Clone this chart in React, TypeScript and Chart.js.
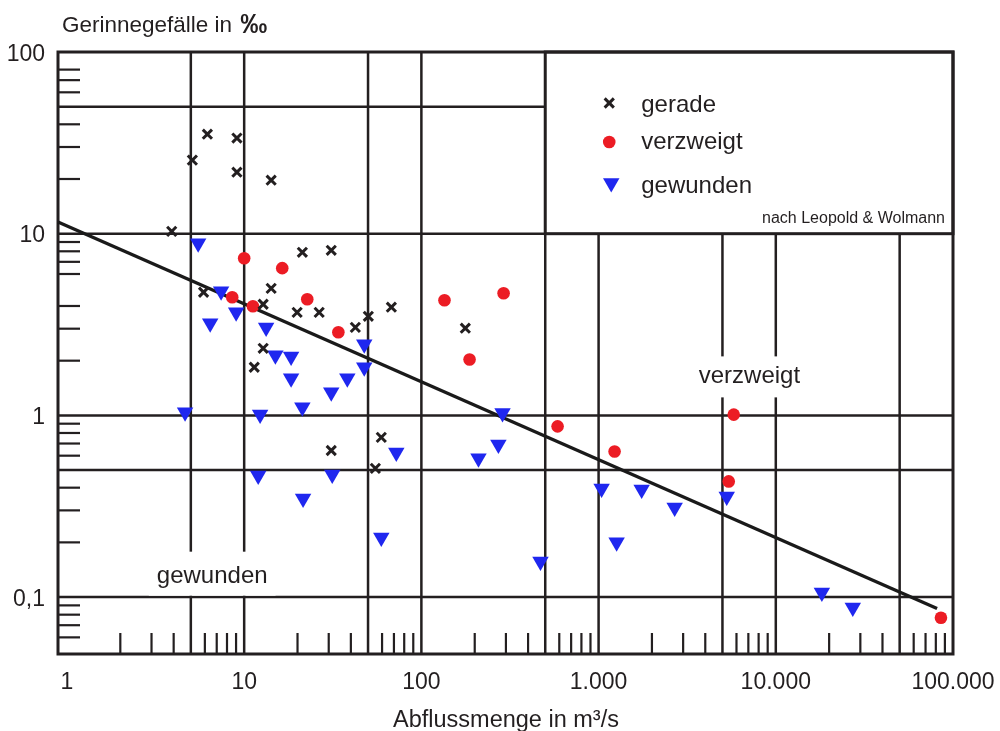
import React, { useEffect, useRef } from "react";
import { Chart, registerables } from "chart.js";

Chart.register(...registerables);

// ---------- data ----------
const geradeQ = [6.2, 9.1, 5.1, 9.1, 14.2, 3.9, 21.3, 31, 5.9, 14.2, 12.8, 19.9, 26.5, 42.4, 50.2, 67.7, 177, 12.8, 11.4, 59.4, 31, 55];
const geradeS = [35.3, 33.6, 25.4, 21.8, 19.7, 10.3, 7.9, 8.1, 4.76, 5.0, 4.09, 3.69, 3.69, 3.05, 3.51, 3.94, 3.02, 2.34, 1.84, 0.757, 0.641, 0.511];

const verzweigtQ = [10, 16.4, 8.56, 11.2, 22.7, 34, 135, 291, 187, 587, 1231, 5790, 5424, 85500];
const verzweigtS = [7.33, 6.46, 4.47, 3.99, 4.36, 2.87, 4.3, 4.7, 2.03, 0.87, 0.633, 1.01, 0.433, 0.077];

const gewundenQ = [5.5, 7.41, 9.01, 6.43, 13.3, 15.0, 18.4, 18.4, 21.3, 4.64, 12.3, 31.0, 38.2, 47.6, 47.6, 287, 272, 210, 72.2, 12.0, 31.4, 21.5, 59.4, 470, 1040, 1264, 1750, 2687, 5286, 18200, 27200];
const gewundenS = [8.87, 4.82, 3.69, 3.21, 3.05, 2.14, 2.11, 1.6, 1.11, 1.04, 1.01, 1.34, 1.6, 2.46, 1.84, 1.03, 0.692, 0.58, 0.625, 0.467, 0.473, 0.349, 0.213, 0.157, 0.396, 0.2, 0.391, 0.311, 0.358, 0.106, 0.0875];

const trendQ = [0.89, 81300];
const trendS = [11.6, 0.0865];

const xTickValues = [1, 10, 100, 1000, 10000, 100000];
const xTickLabels = ["1", "10", "100", "1.000", "10.000", "100.000"];
const yTickValues = [100, 10, 1, 0.1];
const yTickLabels = ["100", "10", "1", "0,1"];

const xGrid = [5, 10, 50, 100, 500, 1000, 5000, 10000, 50000];
const yGrid = [0.1, 0.5, 1, 10, 50];
const xMinor = [2, 3, 4, 6, 7, 8, 9, 20, 30, 40, 60, 70, 80, 90, 200, 300, 400, 600, 700, 800, 900, 2000, 3000, 4000, 6000, 7000, 8000, 9000, 20000, 30000, 40000, 60000, 70000, 80000, 90000];
const yMinor = [0.06, 0.07, 0.08, 0.09, 0.2, 0.3, 0.4, 0.6, 0.7, 0.8, 0.9, 2, 3, 4, 6, 7, 8, 9, 20, 30, 40, 60, 70, 80];

const legendLabels = ["gerade", "verzweigt", "gewunden"];
const sourceNote = "nach Leopold & Wolmann";
const yTitle = "Gerinnegefälle in ";
const yTitleUnit = "‰";
const xTitle = "Abflussmenge in m³/s";

// ---------- styles ----------
const INK = "#231f20";
const RED = "#ec1c24";
const BLUE = "#1f27ef";
const FONT = "'Liberation Sans', Arial, Helvetica, sans-serif";

const toPts = (xs: number[], ys: number[]) => xs.map((x, i) => ({ x, y: ys[i] }));

const decorPlugin = {
  id: "decor",
  beforeDatasetsDraw(chart: any) {
    const { ctx, chartArea: ca, scales } = chart;
    const xs = scales.x;
    const ys = scales.y;
    const px = (v: number) => xs.getPixelForValue(v);
    const py = (v: number) => ys.getPixelForValue(v);
    ctx.save();
    ctx.strokeStyle = INK;
    ctx.lineCap = "butt";

    // grid lines
    ctx.lineWidth = 2.5;
    xGrid.forEach((v) => {
      const p = px(v);
      ctx.beginPath();
      ctx.moveTo(p, ca.top);
      ctx.lineTo(p, ca.bottom);
      ctx.stroke();
    });
    yGrid.forEach((v) => {
      const p = py(v);
      ctx.beginPath();
      ctx.moveTo(ca.left, p);
      ctx.lineTo(ca.right, p);
      ctx.stroke();
    });

    // minor ticks
    ctx.lineWidth = 2.2;
    const tl = 21;
    xMinor.forEach((v) => {
      const p = px(v);
      ctx.beginPath();
      ctx.moveTo(p, ca.bottom);
      ctx.lineTo(p, ca.bottom - tl);
      ctx.stroke();
    });
    yMinor.forEach((v) => {
      const p = py(v);
      ctx.beginPath();
      ctx.moveTo(ca.left, p);
      ctx.lineTo(ca.left + tl + 1, p);
      ctx.stroke();
    });

    // in-chart annotations with white backgrounds
    ctx.fillStyle = INK;
    ctx.font = `24px ${FONT}`;
    ctx.textAlign = "center";
    ctx.textBaseline = "alphabetic";
    const annots = [
      { t: "gewunden", x: px(6.6), y: py(0.12), top: 31, bot: 13 },
      { t: "verzweigt", x: px(7100), y: py(1.5), top: 27, bot: 14 },
    ];
    annots.forEach((a) => {
      const w = ctx.measureText(a.t).width + 16;
      ctx.fillStyle = "#fff";
      ctx.fillRect(a.x - w / 2, a.y - a.top, w, a.top + a.bot);
      ctx.fillStyle = INK;
      ctx.fillText(a.t, a.x, a.y);
    });

    // legend box
    const lx = px(500);
    const lt = ca.top;
    const lb = py(10);
    const lr = ca.right;
    ctx.fillStyle = "#fff";
    ctx.fillRect(lx, lt, lr - lx, lb - lt);
    ctx.lineWidth = 3;
    ctx.strokeRect(lx, lt, lr - lx, lb - lt);

    const mx = lx + 64;
    const tx = lx + 96;
    // x marker
    ctx.lineWidth = 3;
    ctx.strokeStyle = INK;
    const r = 6.5 * Math.SQRT1_2;
    let cy = lt + 51;
    ctx.beginPath();
    ctx.moveTo(mx - r, cy - r);
    ctx.lineTo(mx + r, cy + r);
    ctx.moveTo(mx + r, cy - r);
    ctx.lineTo(mx - r, cy + r);
    ctx.stroke();
    // circle
    cy = lt + 90;
    ctx.fillStyle = RED;
    ctx.beginPath();
    ctx.arc(mx, cy, 6.3, 0, Math.PI * 2);
    ctx.fill();
    // triangle (down)
    cy = lt + 131;
    const tr = 9.5;
    const tcx = mx + 2;
    ctx.fillStyle = BLUE;
    ctx.beginPath();
    ctx.moveTo(tcx, cy + tr);
    ctx.lineTo(tcx - tr * 0.866, cy - tr / 2);
    ctx.lineTo(tcx + tr * 0.866, cy - tr / 2);
    ctx.closePath();
    ctx.fill();

    ctx.fillStyle = INK;
    ctx.font = `24px ${FONT}`;
    ctx.textAlign = "left";
    ctx.fillText(legendLabels[0], tx, lt + 60);
    ctx.fillText(legendLabels[1], tx, lt + 97);
    ctx.fillText(legendLabels[2], tx, lt + 141);
    ctx.font = `16px ${FONT}`;
    ctx.textAlign = "right";
    ctx.fillText(sourceNote, lr - 8, lb - 11);

    // plot border
    ctx.strokeStyle = INK;
    ctx.lineWidth = 3;
    ctx.strokeRect(ca.left, ca.top, ca.right - ca.left, ca.bottom - ca.top);

    // tick labels
    ctx.fillStyle = INK;
    ctx.font = `23px ${FONT}`;
    ctx.textAlign = "center";
    xTickValues.forEach((v, i) => {
      ctx.fillText(xTickLabels[i], px(v), ca.bottom + 35);
    });
    ctx.textAlign = "right";
    yTickValues.forEach((v, i) => {
      ctx.fillText(yTickLabels[i], ca.left - 13, py(v) + 8.5);
    });

    // axis titles
    ctx.textAlign = "left";
    ctx.font = `22.5px ${FONT}`;
    ctx.fillText(yTitle, 62, 32);
    const w1 = ctx.measureText(yTitle).width;
    ctx.font = `bold 27px ${FONT}`;
    ctx.fillText(yTitleUnit, 62 + w1 + 2, 33);
    ctx.font = `23.5px ${FONT}`;
    ctx.textAlign = "center";
    ctx.fillText(xTitle, 506, 727);

    ctx.restore();
  },
};

export default function App() {
  const ref = useRef<HTMLCanvasElement>(null);
  useEffect(() => {
    if (!ref.current) return;
    const chart = new Chart(ref.current, {
      type: "scatter",
      data: {
        datasets: [
          {
            label: "gerade",
            data: toPts(geradeQ, geradeS),
            pointStyle: "crossRot",
            pointRadius: 6.5,
            borderColor: INK,
            borderWidth: 3,
            backgroundColor: INK,
            clip: false,
            order: 1,
          } as any,
          {
            label: "verzweigt",
            data: toPts(verzweigtQ, verzweigtS),
            pointStyle: "circle",
            pointRadius: 6.3,
            backgroundColor: RED,
            borderWidth: 0,
            clip: false,
            order: 2,
          },
          {
            label: "gewunden",
            data: toPts(gewundenQ, gewundenS),
            pointStyle: "triangle",
            pointRotation: 180,
            pointRadius: 9.5,
            backgroundColor: BLUE,
            borderWidth: 0,
            clip: false,
            order: 3,
          },
          {
            label: "trend",
            data: toPts(trendQ, trendS),
            showLine: true,
            pointRadius: 0,
            borderColor: "#1a1a1a",
            borderWidth: 3.3,
            fill: false,
            clip: false,
            order: 10,
          },
        ],
      },
      options: {
        responsive: false,
        animation: false,
        layout: { padding: { left: 58, right: 47, top: 52, bottom: 77 } },
        scales: {
          x: { type: "logarithmic", min: 0.89, max: 100000, display: false },
          y: { type: "logarithmic", min: 0.0486, max: 100, display: false },
        },
        plugins: {
          legend: { display: false },
          tooltip: { enabled: false },
        },
        events: [],
      },
      plugins: [decorPlugin],
    });
    return () => chart.destroy();
  }, []);
  return (
    <div style={{ position: "absolute", left: 0, top: 0, width: 1000, height: 731, background: "#fff" }}>
      <canvas ref={ref} width={1000} height={731} style={{ display: "block", width: 1000, height: 731 }} />
    </div>
  );
}
